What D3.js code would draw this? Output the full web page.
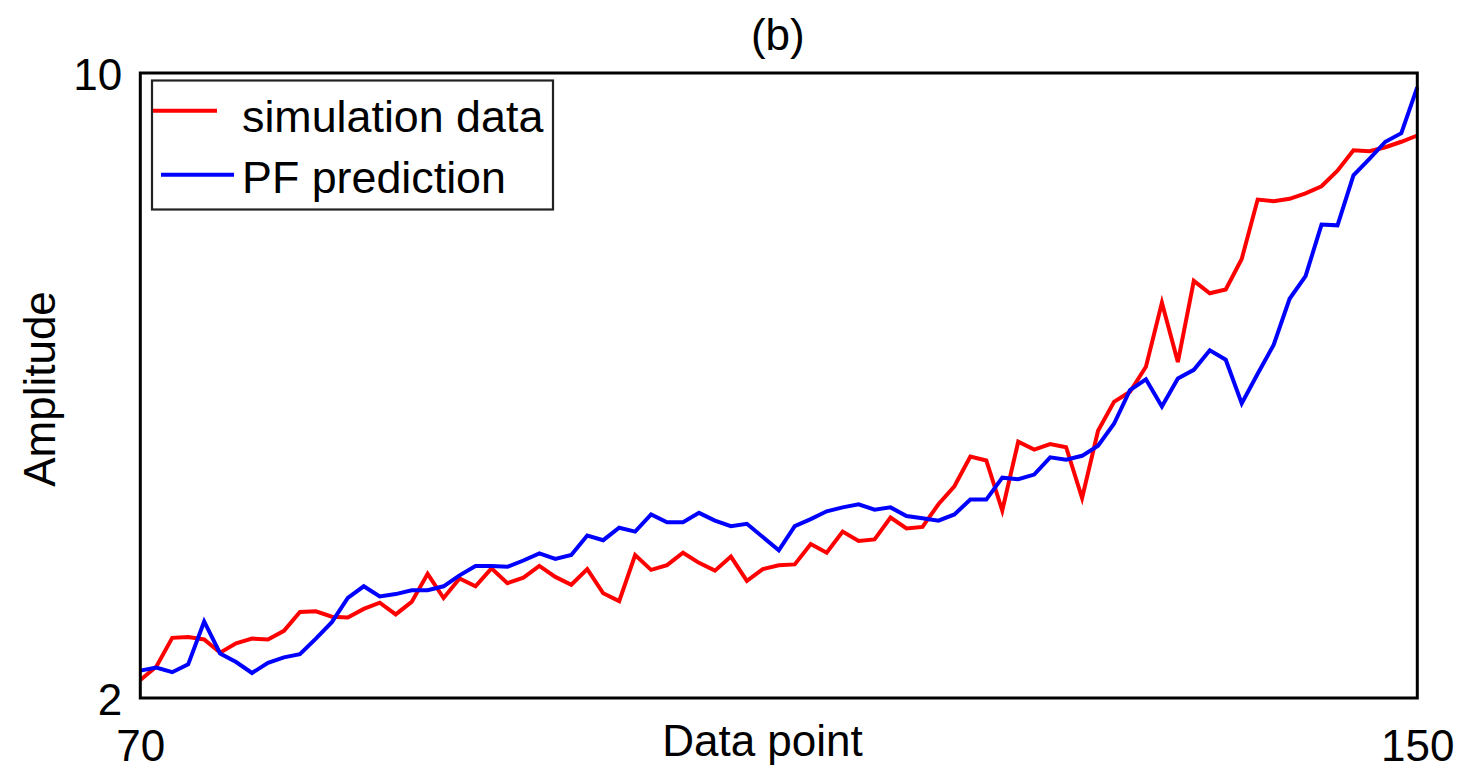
<!DOCTYPE html>
<html>
<head>
<meta charset="utf-8">
<script src="https://cdn.jsdelivr.net/npm/d3@7"></script>
<style>
  html, body { margin: 0; padding: 0; background: #fff; }
  svg { display: block; }
  text { font-family: "Liberation Sans", Arial, sans-serif; fill: #000; }
</style>
</head>
<body>
<svg id="chart" width="1470" height="782"></svg>
<script>
// ---- data ----
const xStart = 70;
const xEnd = 150;
const xTicks = [70, 150];
const yTicks = [2, 10];
const titleText = "(b)";
const xLabel = "Data point";
const yLabel = "Amplitude";
const seriesNames = ["simulation data", "PF prediction"];

const simulationData = [
  2.23, 2.40, 2.77, 2.78, 2.75, 2.58, 2.70, 2.76, 2.75, 2.86,
  3.10, 3.11, 3.04, 3.03, 3.14, 3.22, 3.07, 3.23, 3.59, 3.28,
  3.53, 3.43, 3.66, 3.47, 3.54, 3.69, 3.55, 3.45, 3.65, 3.34,
  3.24, 3.83, 3.64, 3.70, 3.86, 3.73, 3.63, 3.81, 3.50, 3.65,
  3.70, 3.71, 3.97, 3.86, 4.13, 4.01, 4.03, 4.31, 4.17, 4.19,
  4.48, 4.71, 5.09, 5.04, 4.40, 5.28, 5.18, 5.25, 5.21, 4.56,
  5.42, 5.79, 5.92, 6.24, 7.06, 6.30, 7.34, 7.18, 7.23, 7.62,
  8.38, 8.36, 8.39, 8.46, 8.55, 8.75, 9.01, 9.00, 9.05, 9.12,
  9.20
];

const pfPrediction = [
  2.35, 2.39, 2.33, 2.43, 2.98, 2.57, 2.46, 2.32, 2.45, 2.52,
  2.56, 2.76, 2.97, 3.28, 3.43, 3.30, 3.33, 3.38, 3.38, 3.43,
  3.57, 3.69, 3.69, 3.68, 3.76, 3.85, 3.78, 3.83, 4.08, 4.02,
  4.18, 4.13, 4.35, 4.25, 4.25, 4.37, 4.27, 4.20, 4.23, 4.06,
  3.89, 4.20, 4.29, 4.39, 4.44, 4.48, 4.41, 4.44, 4.33, 4.30,
  4.27, 4.35, 4.54, 4.54, 4.82, 4.80, 4.86, 5.08, 5.05, 5.10,
  5.23, 5.51, 5.94, 6.08, 5.73, 6.09, 6.20, 6.45, 6.33, 5.77,
  6.15, 6.52, 7.11, 7.40, 8.06, 8.05, 8.69, 8.90, 9.12, 9.23,
  9.82
];

const colors = ["#ff0000", "#0000ff"];

// ---- layout ----
const svg = d3.select("#chart");
const plotLeft = 140.3, plotRight = 1417.3, plotTop = 73, plotBottom = 698;
const fontSize = 44;
const legendFontSize = 44.8;

const x = d3.scaleLinear().domain([xStart, xEnd]).range([plotLeft, plotRight]);
const y = d3.scaleLinear().domain([yTicks[0], yTicks[1]]).range([plotBottom, plotTop]);

const xs = d3.range(xStart, xEnd + 1);

// lines
const line = d3.line().x(d => x(d[0])).y(d => y(d[1]));
[simulationData, pfPrediction].forEach((vals, i) => {
  svg.append("path")
    .datum(vals.map((v, k) => [xs[k], v]))
    .attr("fill", "none")
    .attr("stroke", colors[i])
    .attr("stroke-width", 4)
    .attr("stroke-linejoin", "miter")
    .attr("d", line);
});

// frame
svg.append("rect")
  .attr("x", plotLeft).attr("y", plotTop)
  .attr("width", plotRight - plotLeft).attr("height", plotBottom - plotTop)
  .attr("fill", "none").attr("stroke", "#000").attr("stroke-width", 3);

// axes
const xAxis = svg.append("g")
  .attr("transform", `translate(0,${plotBottom})`)
  .call(d3.axisBottom(x).tickValues(xTicks).tickSize(0).tickPadding(31.5).tickFormat(d3.format("d")));
xAxis.select(".domain").remove();
xAxis.selectAll("text").style("font-size", fontSize + "px").style("font-family", "Liberation Sans, Arial, sans-serif").attr("fill", "#000");

const yAxis = svg.append("g")
  .attr("transform", `translate(${plotLeft},0)`)
  .call(d3.axisLeft(y).tickValues(yTicks).tickSize(0).tickPadding(18).tickFormat(d3.format("d")));
yAxis.select(".domain").remove();
yAxis.selectAll("text").attr("dy", "0.38em").style("font-size", fontSize + "px").style("font-family", "Liberation Sans, Arial, sans-serif").attr("fill", "#000");

// title and labels
svg.append("text")
  .attr("x", (plotLeft + plotRight) / 2 - 1).attr("y", 50)
  .attr("text-anchor", "middle")
  .style("font-size", fontSize + "px")
  .text(titleText);

svg.append("text")
  .attr("x", 762.5).attr("y", 755.7)
  .attr("text-anchor", "middle")
  .style("font-size", fontSize + "px")
  .text(xLabel);

svg.append("text")
  .attr("transform", `translate(55,389) rotate(-90)`)
  .attr("text-anchor", "middle")
  .style("font-size", fontSize + "px")
  .text(yLabel);

// legend
const legend = svg.append("g");
legend.append("rect")
  .attr("x", 152).attr("y", 80.5)
  .attr("width", 401).attr("height", 129)
  .attr("fill", "#fff").attr("stroke", "#222").attr("stroke-width", 2.2);

const legendRows = [
  { name: seriesNames[0], color: colors[0], x1: 153, x2: 217, ly: 110.7, ty: 131.7 },
  { name: seriesNames[1], color: colors[1], x1: 161, x2: 234, ly: 174.7, ty: 192.7 }
];
legendRows.forEach(r => {
  legend.append("line")
    .attr("x1", r.x1).attr("x2", r.x2)
    .attr("y1", r.ly).attr("y2", r.ly)
    .attr("stroke", r.color).attr("stroke-width", 4);
  legend.append("text")
    .attr("x", 242).attr("y", r.ty)
    .style("font-size", legendFontSize + "px")
    .text(r.name);
});
</script>
</body>
</html>
